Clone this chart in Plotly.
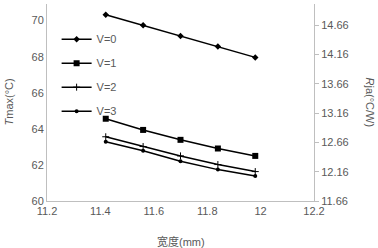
import plotly.graph_objects as go

width_mm = [11.42, 11.56, 11.70, 11.84, 11.98]
v0 = [70.32, 69.74, 69.15, 68.56, 67.96]
v1 = [64.56, 63.94, 63.39, 62.91, 62.50]
v2 = [63.56, 63.02, 62.50, 62.02, 61.63]
v3 = [63.29, 62.78, 62.20, 61.74, 61.39]
series_names = ["V=0", "V=1", "V=2", "V=3"]

x_ticks = [11.2, 11.4, 11.6, 11.8, 12.0, 12.2]
x_ticklabels = ["11.2", "11.4", "11.6", "11.8", "12", "12.2"]
y_ticks = [60, 62, 64, 66, 68, 70]
y2_ticks = [11.66, 12.16, 12.66, 13.16, 13.66, 14.16, 14.66]
y2_ticklabels = ["11.66", "12.16", "12.66", "13.16", "13.66", "14.16", "14.66"]

FONT = "Liberation Sans"
GRAY = "#595959"
AX = "#bfbfbf"

symbols = [
    dict(symbol="diamond", size=5),
    dict(symbol="square", size=6),
    dict(symbol="cross-thin", size=5, line=dict(width=1, color="black")),
    dict(symbol="circle", size=4),
]

fig = go.Figure()
for name, ys, m in zip(series_names, [v0, v1, v2, v3], symbols):
    fig.add_trace(go.Scatter(
        x=width_mm, y=ys, name=name, mode="lines+markers",
        line=dict(color="black", width=1.5),
        marker=dict(color="black", **m),
        legendgroup=name,
    ))

# invisible trace to carry the secondary axis
fig.add_trace(go.Scatter(x=[width_mm[0]], y=[y2_ticks[0]], yaxis="y2",
                         mode="markers", marker=dict(opacity=0),
                         showlegend=False, hoverinfo="skip"))

fig.update_layout(
    width=378, height=248,
    margin=dict(l=47, r=64, t=4, b=47),
    paper_bgcolor="white", plot_bgcolor="white",
    font=dict(family=FONT, size=11, color=GRAY),
    xaxis=dict(range=[11.2, 12.2], tickvals=x_ticks, ticktext=x_ticklabels,
               showline=True, linecolor=AX, linewidth=1, showgrid=False,
               zeroline=False, ticks="", tickfont=dict(size=11, color=GRAY)),
    yaxis=dict(range=[60, 70.92], tickvals=y_ticks,
               showline=True, linecolor=AX, linewidth=1, showgrid=False,
               zeroline=False, ticks="", tickfont=dict(size=11, color=GRAY)),
    yaxis2=dict(range=[11.66, 15.02], tickvals=y2_ticks, ticktext=y2_ticklabels,
                overlaying="y", side="right",
                showline=True, linecolor=AX, linewidth=1, showgrid=False,
                zeroline=False, ticks="outside", ticklen=4, tickcolor=AX,
                tickfont=dict(size=11, color=GRAY)),
    legend=dict(x=0.036, y=0.895, xanchor="left", yanchor="top",
                bgcolor="rgba(0,0,0,0)", font=dict(size=11, color=GRAY),
                tracegroupgap=5, itemwidth=30),
    showlegend=True,
    annotations=[
        dict(text="宽度(mm)", xref="paper", yref="paper", x=0.5, y=0,
             xshift=0, yshift=-40, xanchor="center", yanchor="middle",
             showarrow=False,
             font=dict(family="Liberation Sans, Noto Sans CJK SC", size=11, color=GRAY)),
        dict(text="<i>T</i>max(°C)", xref="paper", yref="paper", x=0, y=0.5,
             xshift=-39, textangle=-90, xanchor="center", yanchor="middle",
             showarrow=False, font=dict(size=11, color=GRAY)),
        dict(text="<i>R</i>ja(°C/W)", xref="paper", yref="paper", x=1, y=0.5,
             xshift=56, textangle=90, xanchor="center", yanchor="middle",
             showarrow=False, font=dict(size=11, color=GRAY)),
    ],
)

fig.write_html("out.html", config={"displayModeBar": False},
               post_script="document.body.style.margin='0';document.body.style.padding='0';")
